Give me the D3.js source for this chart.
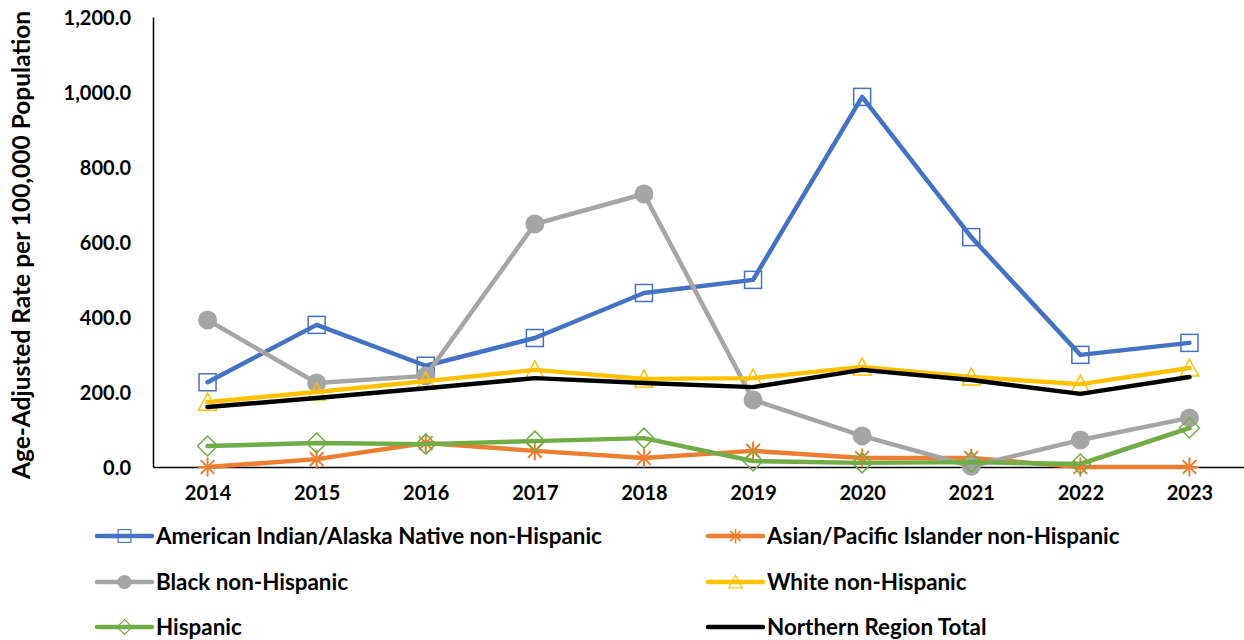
<!DOCTYPE html>
<html>
<head>
<meta charset="utf-8">
<script src="https://cdn.jsdelivr.net/npm/d3@7"></script>
<style>
  html, body { margin: 0; padding: 0; background: #fff; }
  svg text { font-family: Lato, "Liberation Sans", sans-serif; font-weight: 700; fill: #000; }
</style>
</head>
<body>
<svg id="chart" width="1244" height="640"></svg>
<script>
// Age-adjusted rate per 100,000 population, by race/ethnicity, Northern Region
const years = ["2014", "2015", "2016", "2017", "2018", "2019", "2020", "2021", "2022", "2023"];
const yTicks = [0, 200, 400, 600, 800, 1000, 1200];

const aianValues  = [226, 379, 270, 344, 464, 499, 987, 613, 299, 331];
const apiValues   = [0, 21, 64, 43, 24, 43, 24, 24, 0, 0];
const blackValues = [392, 224, 243, 648, 728, 179, 83, 2, 72, 131];
const whiteValues = [173, 200, 229, 259, 235, 237, 267, 240, 221, 264];
const hispValues  = [56, 64, 61, 69, 77, 16, 11, 13, 8, 104];
const totalValues = [160, 184, 210, 237, 224, 213, 259, 232, 195, 240];

const seriesNames = [
  "American Indian/Alaska Native non-Hispanic",
  "Asian/Pacific Islander non-Hispanic",
  "Black non-Hispanic",
  "White non-Hispanic",
  "Hispanic",
  "Northern Region Total"
];

const series = [
  { name: seriesNames[0], values: aianValues,  color: "#4472C4", marker: "square" },
  { name: seriesNames[1], values: apiValues,   color: "#ED7D31", marker: "star" },
  { name: seriesNames[2], values: blackValues, color: "#A5A5A5", marker: "circle" },
  { name: seriesNames[3], values: whiteValues, color: "#FFC000", marker: "triangle" },
  { name: seriesNames[4], values: hispValues,  color: "#70AD47", marker: "diamond" },
  { name: seriesNames[5], values: totalValues, color: "#000000", marker: "none" }
];

const svg = d3.select("#chart");
const plot = { left: 153, right: 1244, top: 17, bottom: 467 };

const x = d3.scalePoint().domain(years).range([plot.left, plot.right]).padding(0.5);
const y = d3.scaleLinear().domain([0, 1200]).range([plot.bottom, plot.top]);

// Y axis
const yAxis = svg.append("g")
  .attr("transform", `translate(${plot.left},0)`)
  .call(d3.axisLeft(y).tickValues(yTicks).tickFormat(d3.format(",.1f")).tickSize(0).tickPadding(22));
yAxis.select(".domain").attr("stroke", "#000").attr("stroke-width", 1.5);
yAxis.selectAll("text").style("font-size", "20px").attr("dy", "0.35em");

// X axis
const xAxis = svg.append("g")
  .attr("transform", `translate(0,${plot.bottom})`)
  .call(d3.axisBottom(x).tickSize(0).tickPadding(19));
xAxis.select(".domain").attr("stroke", "#000").attr("stroke-width", 1.5);
xAxis.selectAll("text").style("font-size", "20px");

// Y axis title
svg.append("text")
  .attr("transform", `translate(30,245) rotate(-90)`)
  .attr("text-anchor", "middle")
  .style("font-size", "24.5px")
  .text("Age-Adjusted Rate per 100,000 Population");

// Marker drawing
function drawMarker(g, type, color) {
  const s = 17;
  if (type === "square") {
    g.append("rect").attr("x", -s / 2).attr("y", -s / 2).attr("width", s).attr("height", s)
      .attr("fill", "none").attr("stroke", color).attr("stroke-width", 1.5);
  } else if (type === "circle") {
    g.append("circle").attr("r", 9.5).attr("fill", color);
  } else if (type === "triangle") {
    const h = 16, w = 18;
    g.append("path").attr("d", `M0,${-h / 2 - 1}L${w / 2},${h / 2}L${-w / 2},${h / 2}Z`)
      .attr("fill", "none").attr("stroke", color).attr("stroke-width", 1.5);
  } else if (type === "diamond") {
    const r = 10;
    g.append("path").attr("d", `M0,${-r}L${r},0L0,${r}L${-r},0Z`)
      .attr("fill", "none").attr("stroke", color).attr("stroke-width", 1.5);
  } else if (type === "star") {
    const r = 9.5, d = r * 0.72;
    g.append("path")
      .attr("d", `M0,${-r}V${r}M${-r},0H${r}M${-d},${-d}L${d},${d}M${-d},${d}L${d},${-d}`)
      .attr("fill", "none").attr("stroke", color).attr("stroke-width", 2);
  }
}

const line = d3.line().x((d, i) => x(years[i])).y(d => y(d));

series.forEach(s => {
  const g = svg.append("g");
  g.append("path").datum(s.values)
    .attr("d", line)
    .attr("fill", "none")
    .attr("stroke", s.color)
    .attr("stroke-width", 4.5)
    .attr("stroke-linejoin", "round")
    .attr("stroke-linecap", "round");
  if (s.marker !== "none") {
    s.values.forEach((v, i) => {
      drawMarker(g.append("g").attr("transform", `translate(${x(years[i])},${y(v)})`), s.marker, s.color);
    });
  }
});

// Legend: two columns, three rows
const legendCols = [97, 708];
const legendRows = [536, 582, 627];
series.forEach((s, i) => {
  const lx = legendCols[i % 2], ly = legendRows[Math.floor(i / 2)];
  const g = svg.append("g").attr("transform", `translate(${lx},${ly})`);
  g.append("line").attr("x1", 0).attr("x2", 55).attr("y1", 0).attr("y2", 0)
    .attr("stroke", s.color).attr("stroke-width", 4.5).attr("stroke-linecap", "round");
  if (s.marker !== "none") {
    const mg = g.append("g").attr("transform", "translate(27.5,0) scale(0.75)");
    drawMarker(mg, s.marker, s.color);
  }
  g.append("text").attr("x", 59).attr("y", 0).attr("dy", "0.35em")
    .style("font-size", "22.4px")
    .text(s.name);
});
</script>
</body>
</html>
